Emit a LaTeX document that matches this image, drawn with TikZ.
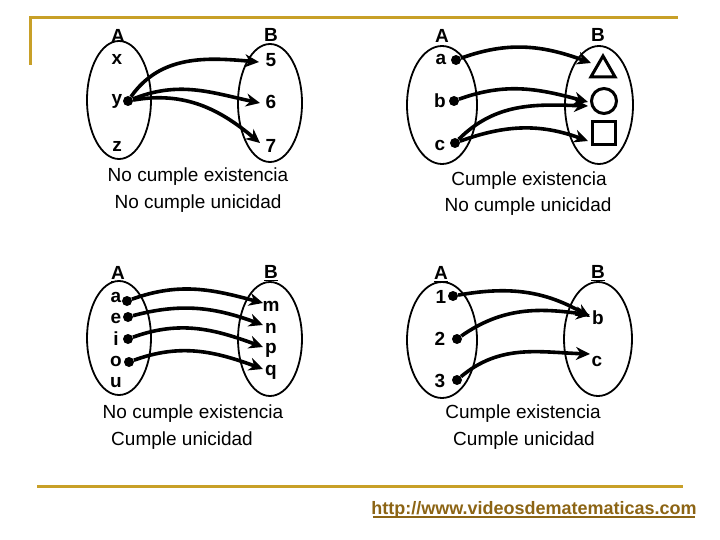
\documentclass[tikz,border=0pt]{standalone}
\usepackage{fontspec}
\setmainfont{Liberation Sans}
\usetikzlibrary{shapes.geometric,arrows.meta,calc}
\definecolor{gold}{RGB}{200,160,40}
\definecolor{urlbrown}{RGB}{140,100,20}

\begin{document}
\begin{tikzpicture}[x=1pt,y=-1pt]
	\tikzstyle{set}=[draw, ellipse, line width=1.8pt, minimum width=64pt, minimum height=118pt]
	\tikzstyle{elem}=[font=\fontsize{19}{19}\selectfont\bfseries, inner sep=1pt]
	\tikzstyle{dot}=[circle, fill, inner sep=0pt, minimum size=10pt]
	\tikzstyle{arr}=[line width=3.6pt, -{Stealth[length=14pt,width=13pt]}]
	\tikzstyle{caption}=[font=\fontsize{19}{19}\selectfont]
	\tikzstyle{figure}=[draw, line width=3pt, inner sep=0pt]
	
	\useasboundingbox (0,0) rectangle (720,540);
	\draw[gold, line width=3pt] (30,65) -- (30,18) -- (678,18);
	\draw[gold, line width=3pt] (37,486) -- (683,486);
	\node[font=\fontsize{18}{18}\selectfont\bfseries, text=urlbrown] (url) at (534,510) {http://www.videosdematematicas.com};
	\draw[urlbrown, line width=1.5pt] ($(url.south west)+(5,-5)$) -- ($(url.south east)+(-5,-5)$);
	
	% primera
	\node[set] (A1) at (119,100) {};
	\node[set] (B1) at (270,103) {};
	\node[elem] (lA1) at (118,36) {A};
	\node[elem] (lB1) at (271,35) {B};
	\node[elem] (x) at (117,59) {x};
	\node[elem] (y) at (117,101) {y};
	\node[elem] (z) at (117,146) {z};
	\node[elem] (five) at (271,60) {5};
	\node[elem] (six) at (271,102) {6};
	\node[elem] (seven) at (271,146) {7};
	\node[dot] (dy) at (128,101) {};
	\draw[arr] (dy) to[out=55, in=175] (259,62);
	\draw[arr] (dy) to[out=22, in=168] (260,103);
	\draw[arr] (dy) to[out=10, in=140] (260,143);
	\node[caption] (c1a) at (198,177) {No cumple existencia};
	\node[caption] (c1b) at (198,204) {No cumple unicidad};
	
	% segunda
	\node[set, minimum width=70pt] (A2) at (442,105) {};
	\node[set, minimum width=68pt] (B2) at (599,105) {};
	\node[elem] (lA2) at (442,36) {A};
	\node[elem] (lB2) at (598,35) {B};
	\node[elem] (a) at (441,59) {a};
	\node[elem] (b) at (440,101) {b};
	\node[elem] (c) at (440,145) {c};
	\node[dot] (da) at (456,60) {};
	\node[dot] (db) at (454,101) {};
	\node[dot] (dc) at (455,143) {};
	\node[figure, regular polygon, regular polygon sides=3, minimum size=28pt] (tri) at (603,70) {};
	\node[figure, circle, minimum size=25pt] (circ) at (604,101) {};
	\node[figure, minimum size=23pt] (sq) at (604,133) {};
	\draw[arr] (da) to[out=20, in=160] (591,63);
	\draw[arr] (db) to[out=20, in=165] (588,102);
	\draw[arr] (dc) to[out=45, in=178] (588,106);
	\draw[arr] (dc) to[out=20, in=160] (588,141);
	\node[caption] (c2a) at (529,181) {Cumple existencia};
	\node[caption] (c2b) at (528,207) {No cumple unicidad};
	
	% tercera
	\node[set, minimum height=114pt] (A3) at (119,338) {};
	\node[set, minimum height=114pt] (B3) at (270,339) {};
	\node[elem] (lA3) at (118,274) {\underline{A}};
	\node[elem] (lB3) at (271,273) {\underline{B}};
	\node[elem] (ea) at (116,297) {a};
	\node[elem] (ee) at (116,318) {e};
	\node[elem] (ei) at (116,339) {i};
	\node[elem] (eo) at (116,361) {o};
	\node[elem] (eu) at (116,383) {u};
	\node[elem] (m) at (271,306) {m};
	\node[elem] (n) at (271,328) {n};
	\node[elem] (p) at (271,350) {p};
	\node[elem] (q) at (271,372) {q};
	\node[dot] (dea) at (127,301) {};
	\node[dot] (dee) at (128,317) {};
	\node[dot] (dei) at (128,339) {};
	\node[dot] (deo) at (129,362) {};
	\draw[arr] (dea) to[out=20, in=165] (263,303);
	\draw[arr] (dee) to[out=15, in=160] (263,325);
	\draw[arr] (dei) to[out=20, in=160] (263,347);
	\draw[arr] (deo) to[out=20, in=160] (263,369);
	\node[caption] (c3a) at (193,414) {No cumple existencia};
	\node[caption] (c3b) at (182,441) {Cumple unicidad};
	
	% cuarta
	\node[set, minimum width=70pt, minimum height=116pt] (A4) at (442,340) {};
	\node[set, minimum width=68pt, minimum height=114pt] (B4) at (598,339) {};
	\node[elem] (lA4) at (441,274) {\underline{A}};
	\node[elem] (lB4) at (598,273) {\underline{B}};
	\node[elem] (one) at (441,297) {1};
	\node[elem] (two) at (440,339) {2};
	\node[elem] (three) at (440,381) {3};
	\node[elem] (eb) at (598,318) {b};
	\node[elem] (ec) at (597,361) {c};
	\node[dot] (d1) at (453,296) {};
	\node[dot] (d2) at (457,339) {};
	\node[dot] (d3) at (457,380) {};
	\draw[arr] (d1) to[out=10, in=150] (590,317);
	\draw[arr] (d2) to[out=35, in=172] (590,315);
	\draw[arr] (d3) to[out=40, in=178] (590,354);
	\node[caption] (c4a) at (523,414) {Cumple existencia};
	\node[caption] (c4b) at (524,441) {Cumple unicidad};
\end{tikzpicture}
\end{document}
